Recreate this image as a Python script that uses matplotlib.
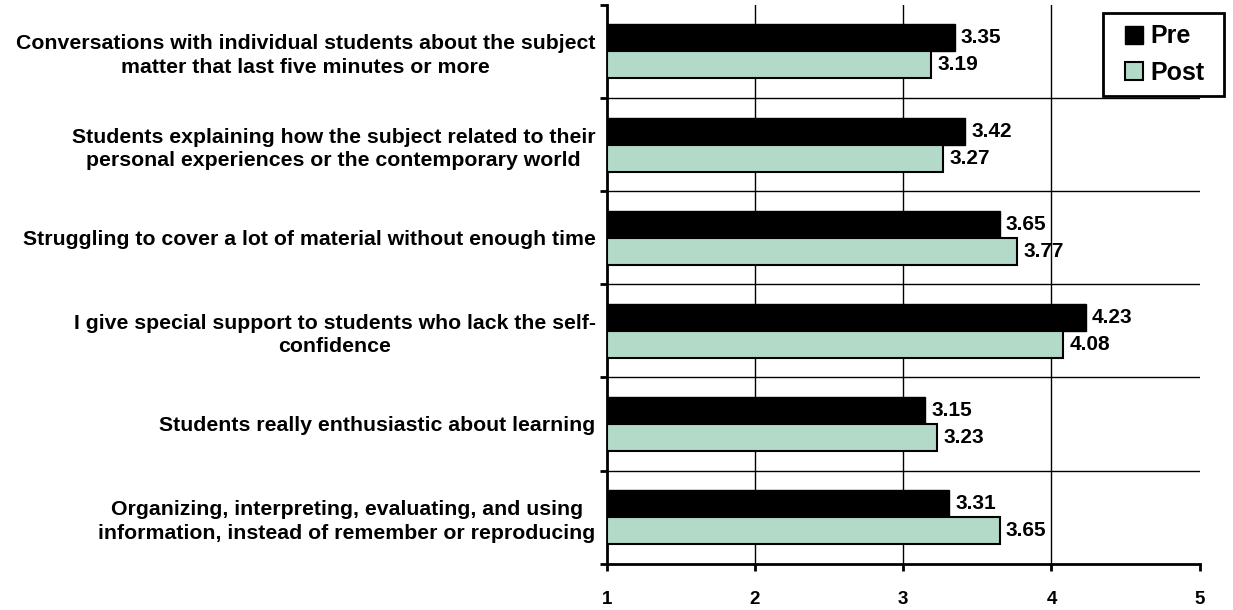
import numpy as np
import matplotlib
matplotlib.use("Agg")
import matplotlib.pyplot as plt
from matplotlib.patches import Patch, Rectangle

plt.rcParams['font.family'] = ['Liberation Sans', 'DejaVu Sans']
plt.rcParams['font.weight'] = 'bold'

categories = [
    "Conversations with individual students about the subject\nmatter that last five minutes or more",
    "Students explaining how the subject related to their\npersonal experiences or the contemporary world",
    "Struggling to cover a lot of material without enough time",
    "I give special support to students who lack the self-\nconfidence",
    "Students really enthusiastic about learning",
    "Organizing, interpreting, evaluating, and using\ninformation, instead of remember or reproducing",
]
pre = [3.35, 3.42, 3.65, 4.23, 3.15, 3.31]
post = [3.19, 3.27, 3.77, 4.08, 3.23, 3.65]
x_ticks = [1, 2, 3, 4, 5]

post_color = '#B3D9C8'

fig = plt.figure(figsize=(12.33, 6.10), dpi=100)
ax = fig.add_axes([0.492, 0.076, 0.481, 0.916])

y = np.arange(len(categories))
h = 0.29

# bars start at 1 (the scale minimum)
pre_bars = ax.barh(y - h / 2, np.array(pre) - 1, left=1, height=h,
                   color='black', edgecolor='black', linewidth=1, zorder=3)
post_bars = ax.barh(y + h / 2, np.array(post) - 1, left=1, height=h,
                    color=post_color, edgecolor='black', linewidth=1.5, zorder=3)

for bars, vals in [(pre_bars, pre), (post_bars, post)]:
    for b, v in zip(bars, vals):
        ax.text(v + 0.04, b.get_y() + b.get_height() / 2, f"{v:.2f}",
                va='center', ha='left', fontsize=15, fontweight='bold', zorder=4)

ax.set_xlim(1, 5)
ax.set_ylim(len(categories) - 0.5, -0.5)

# gridlines: vertical at inner ticks, horizontal between categories
for xv in x_ticks[1:-1]:
    ax.axvline(xv, color='black', linewidth=1, zorder=1)
for yb in np.arange(0.5, len(categories) - 0.5, 1):
    ax.axhline(yb, color='black', linewidth=1, zorder=1)

ax.set_xticks(x_ticks)
ax.set_xticklabels([str(t) for t in x_ticks], fontsize=13.5, fontweight='bold')
ax.tick_params(axis='x', direction='out', length=5, width=2, pad=15)

ax.set_yticks(np.arange(-0.5, len(categories), 1))
ax.set_yticklabels([])
ax.set_yticks(y, minor=True)
ax.set_yticklabels(categories, minor=True, fontsize=15.3, fontweight='bold',
                   linespacing=1.3)
ax.tick_params(axis='y', which='major', direction='out', length=5, width=2)
ax.tick_params(axis='y', which='minor', length=0, pad=8)
for lab in ax.get_yticklabels(minor=True):
    lab.set_multialignment('center')

for s in ['top', 'right']:
    ax.spines[s].set_visible(False)
for s in ['left', 'bottom']:
    ax.spines[s].set_linewidth(2)

# legend box drawn separately so padding can differ horizontally/vertically
fig.patches.append(Rectangle((0.8946, 0.8426), 0.0981, 0.1361, transform=fig.transFigure,
                             facecolor='white', edgecolor='black', linewidth=2, zorder=5))
handles = [Patch(facecolor='black', edgecolor='black', label='Pre'),
           Patch(facecolor=post_color, edgecolor='black', linewidth=1.5, label='Post')]
leg = fig.legend(handles=handles, loc='upper left', bbox_to_anchor=(0.9124, 0.960),
                 borderaxespad=0, borderpad=0, frameon=False,
                 handlelength=0.72, handleheight=0.72, handletextpad=0.3,
                 labelspacing=0.5, prop={'weight': 'bold', 'size': 18})
leg.set_zorder(6)

fig.savefig('out.png', dpi=100)
